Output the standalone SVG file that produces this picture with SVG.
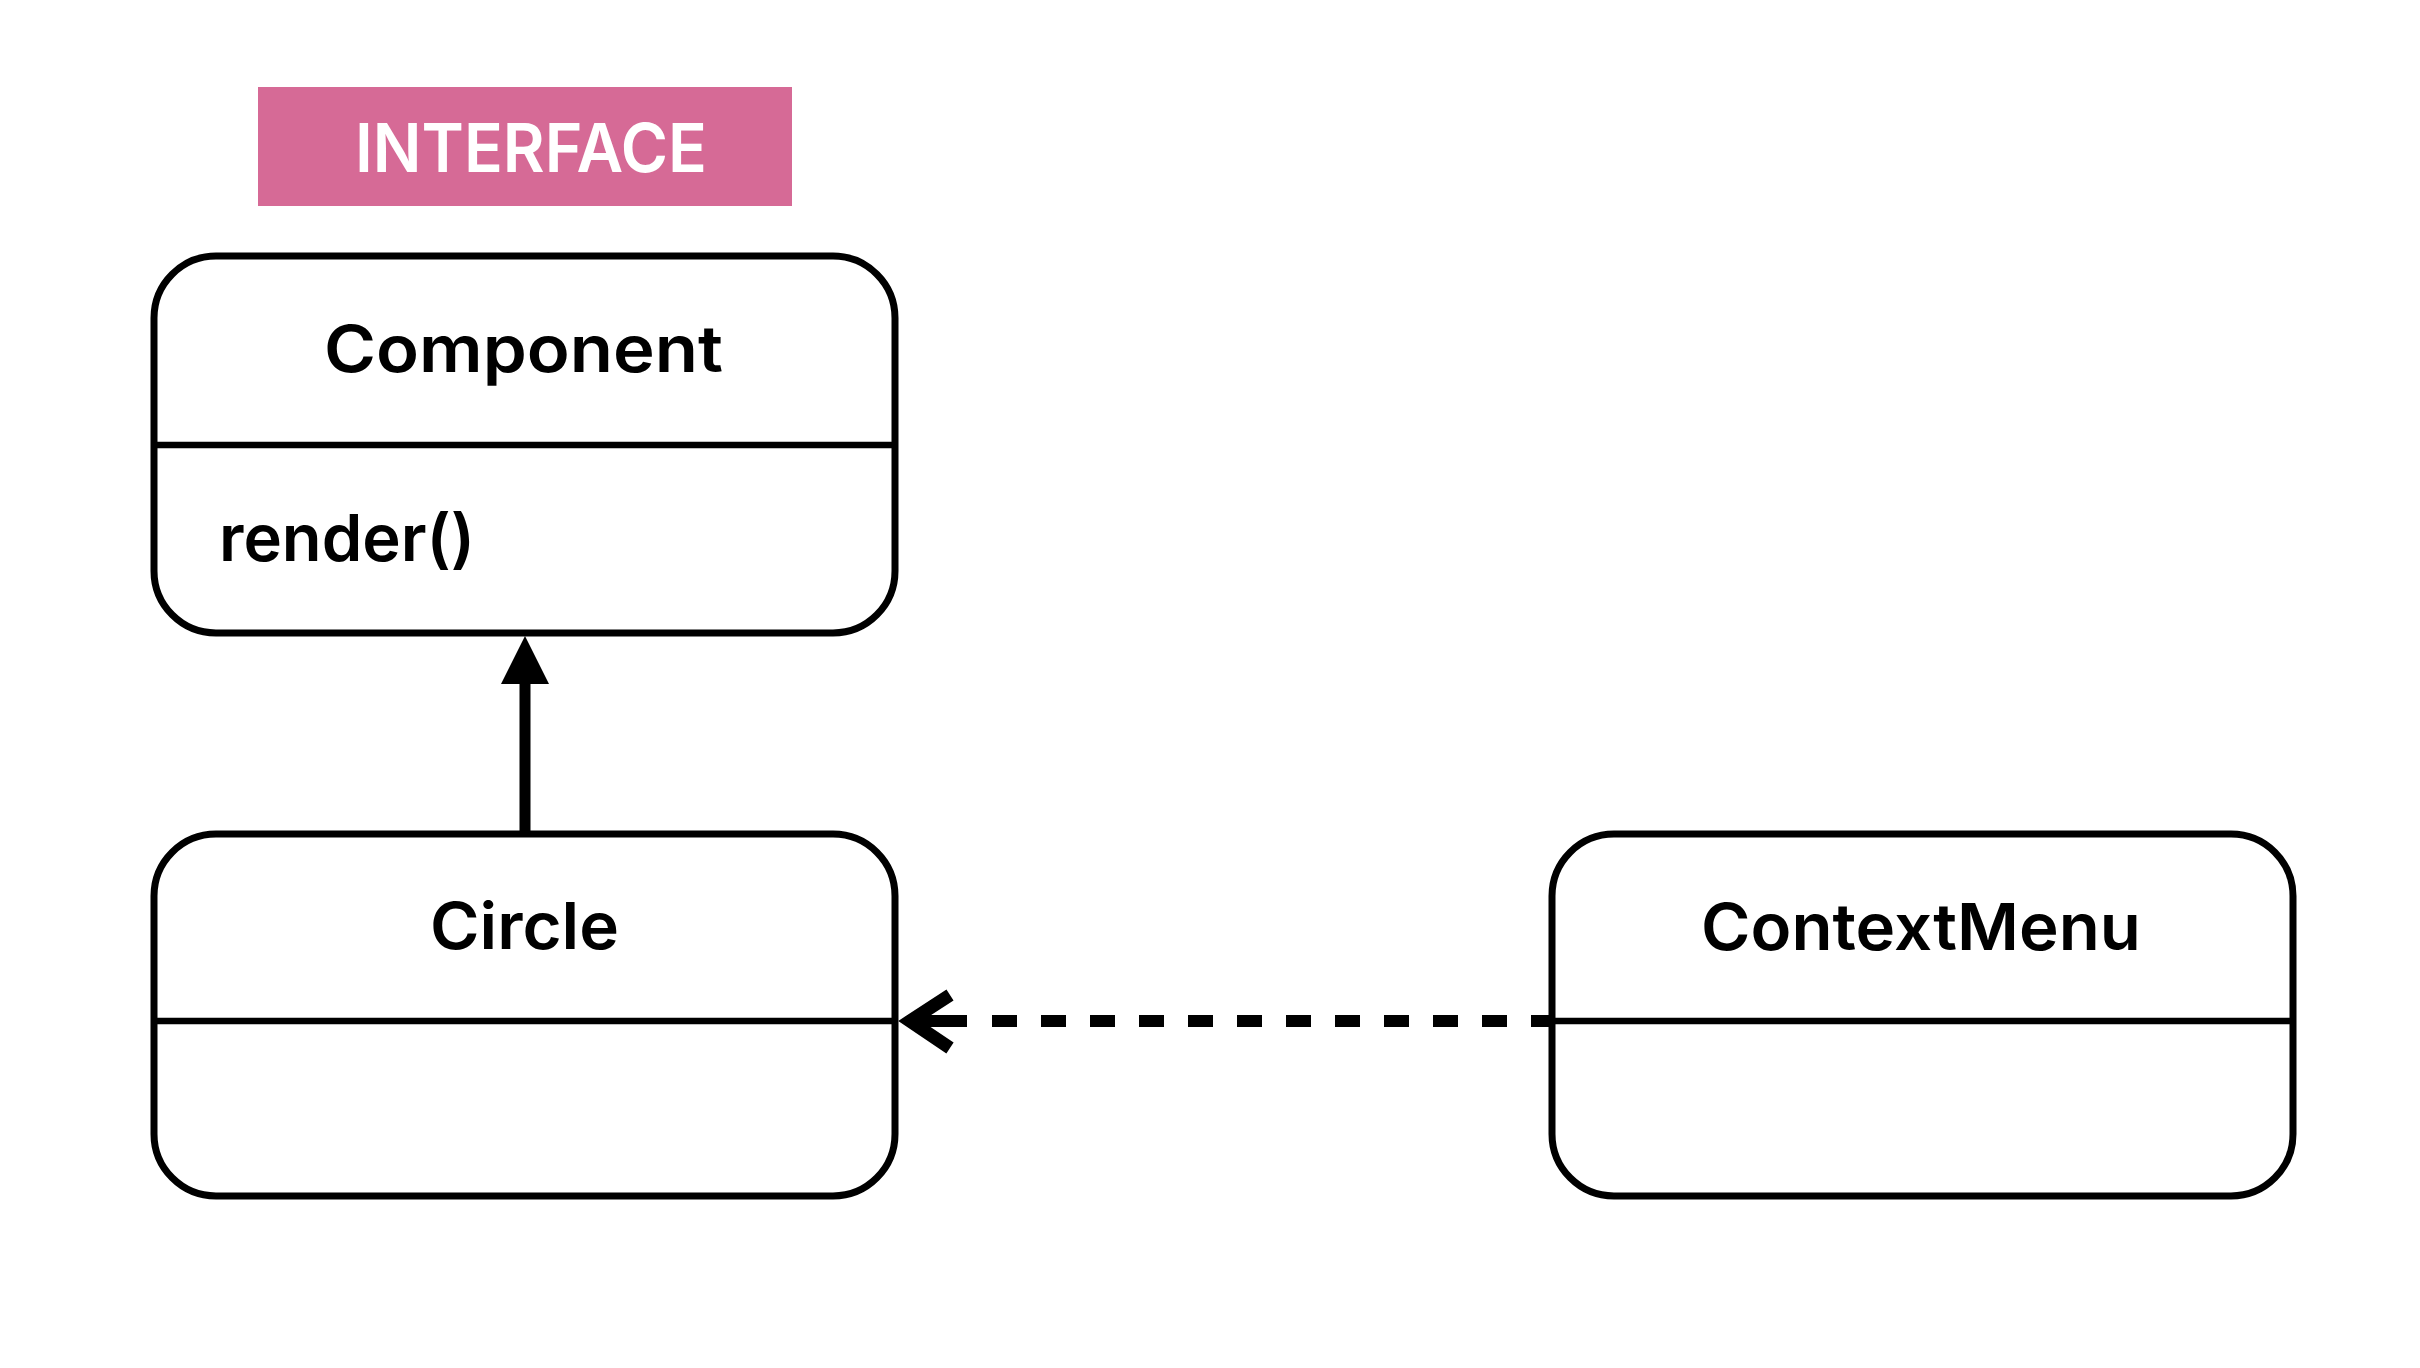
<svg xmlns="http://www.w3.org/2000/svg" width="2420" height="1368" viewBox="0 0 2420 1368">
  <style>
    .box { fill: #ffffff; stroke: #000000; stroke-width: 7; }
    .divider { stroke: #000000; stroke-width: 6.5; }
    .title { font-family: Inter, "Noto Sans", "Liberation Sans", sans-serif; font-size: 65px; font-weight: 600; fill: #000000; }
    .member { font-family: Inter, "Noto Sans", "Liberation Sans", sans-serif; font-size: 65px; font-weight: 600; fill: #000000; }
    .tag { font-family: Inter, "Noto Sans", "Liberation Sans", sans-serif; font-size: 68px; font-weight: 600; fill: #ffffff; }
  </style>
  <rect width="2420" height="1368" fill="#ffffff"/>

  <!-- stereotype badge -->
  <g id="interface-label">
    <rect x="258" y="87" width="534" height="119" fill="#D66A96"/>
    <text class="tag" x="355" y="172" textLength="352" lengthAdjust="spacingAndGlyphs">INTERFACE</text>
  </g>

  <!-- Component interface -->
  <g id="component">
    <rect class="box" x="154" y="256" width="741" height="377" rx="62" ry="62"/>
    <line class="divider" x1="154" y1="445" x2="895" y2="445"/>
    <text class="title" x="324" y="372" textLength="399" lengthAdjust="spacingAndGlyphs">Component</text>
    <text class="member" x="219" y="561" textLength="256" lengthAdjust="spacingAndGlyphs">render()</text>
  </g>

  <!-- Circle class -->
  <g id="circle">
    <rect class="box" x="154" y="834" width="741" height="362" rx="62" ry="62"/>
    <line class="divider" x1="154" y1="1021" x2="895" y2="1021"/>
    <text class="title" x="430" y="949" textLength="189" lengthAdjust="spacingAndGlyphs">Circle</text>
  </g>

  <!-- ContextMenu class -->
  <g id="contextmenu">
    <rect class="box" x="1552" y="834" width="741" height="362" rx="62" ry="62"/>
    <line class="divider" x1="1552" y1="1021" x2="2293" y2="1021"/>
    <text class="title" x="1701" y="950" textLength="440" lengthAdjust="spacingAndGlyphs">ContextMenu</text>
  </g>

  <!-- connectors -->
  <g id="connectors">
    <!-- Circle implements Component -->
    <line x1="525" y1="832" x2="525" y2="680" stroke="#000000" stroke-width="11"/>
    <polygon points="525,636 501,684 549,684" fill="#000000"/>

    <!-- ContextMenu depends on Circle -->
    <line x1="992" y1="1021" x2="1550" y2="1021" stroke="#000000" stroke-width="12" stroke-dasharray="25 24"/>
    <line x1="912" y1="1021" x2="967" y2="1021" stroke="#000000" stroke-width="12"/>
    <polyline points="950,995 910,1021 950,1048" fill="none" stroke="#000000" stroke-width="13" stroke-linejoin="miter" stroke-miterlimit="10"/>
  </g>
</svg>
